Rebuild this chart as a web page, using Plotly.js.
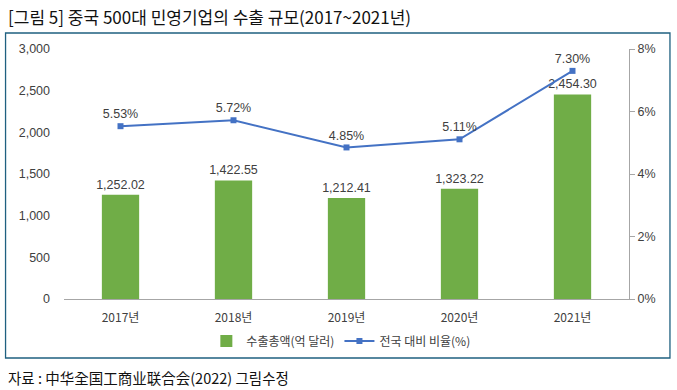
<!DOCTYPE html>
<html><head><meta charset="utf-8">
<script src="https://cdn.plot.ly/plotly-3.0.1.min.js"></script>
<style>html,body{margin:0;padding:0;background:#fff}#c{width:677px;height:390px}</style>
</head><body><div id="c"></div>
<script>
const years = ['2017년','2018년','2019년','2020년','2021년'];
const exportTotal = [1252.02, 1422.55, 1212.41, 1323.22, 2454.30];
const exportLabels = ['1,252.02','1,422.55','1,212.41','1,323.22','2,454.30'];
const ratio = [5.53, 5.72, 4.85, 5.11, 7.30];
const ratioLabels = ['5.53%','5.72%','4.85%','5.11%','7.30%'];

const font = 'Liberation Sans, Arial, Noto Sans CJK KR, sans-serif';
const kfont = 'Noto Sans CJK KR, Liberation Sans, sans-serif';

const traces = [
  {type:'bar', x:years, y:exportTotal, name:'수출총액(억 달러)', marker:{color:'#70ad47'},
   text:exportLabels, textposition:'outside', constraintext:'none', cliponaxis:false,
   textfont:{family:font, size:12.5, color:'#404040'}, hoverinfo:'none'},
  {type:'scatter', mode:'lines+markers+text', x:years, y:ratio, yaxis:'y2', name:'전국 대비 비율(%)',
   line:{color:'#4472c4', width:2}, marker:{symbol:'square', size:6, color:'#4472c4'},
   text:ratioLabels, textposition:'top center', cliponaxis:false,
   textfont:{family:font, size:12.5, color:'#404040'}, hoverinfo:'none'}
];

const layout = {
  width:677, height:390,
  margin:{l:63.5, r:48, t:49, b:91},
  paper_bgcolor:'#fff', plot_bgcolor:'#fff',
  showlegend:true,
  bargap:0.67,
  font:{family:font, size:12, color:'#404040'},
  xaxis:{showgrid:false, showline:true, linecolor:'#a6a6a6', linewidth:1, ticks:'', ticklabelstandoff:8, tickfont:{family:kfont, size:12, color:'#404040'}, fixedrange:true},
  yaxis:{range:[0,3000], dtick:500, tickformat:',', showgrid:false, showline:false, zeroline:false, ticks:'', ticklen:0, tickfont:{size:12.5, color:'#404040'}, ticklabelstandoff:13},
  yaxis2:{range:[0,8], dtick:2, ticksuffix:'%', overlaying:'y', side:'right', showgrid:false, showline:true, linecolor:'#a6a6a6', linewidth:1, ticks:'outside', ticklen:5, tickcolor:'#a6a6a6', zeroline:false, tickfont:{size:12.5, color:'#404040'}},
  legend:{orientation:'h', x:0.49, xanchor:'center', y:-0.168, yanchor:'middle', font:{family:kfont, size:12, color:'#404040'}, itemwidth:30, tracegroupgap:0},
  shapes:[{type:'rect', xref:'paper', yref:'paper', x0:(5-63.5)/565.5, x1:(670-63.5)/565.5, y0:(299-358)/250, y1:(299-33)/250, line:{color:'#1f6080', width:1.3}, layer:'below'}],
  annotations:[
    {xref:'paper', yref:'paper', x:(5-63.5)/565.5, y:(299-16)/250, xanchor:'left', yanchor:'middle', showarrow:false,
     text:'[그림 5] 중국 500대 민영기업의 수출 규모(2017~2021년)', font:{family:kfont, size:17, color:'#111'}},
    {xref:'paper', yref:'paper', x:(5-63.5)/565.5, y:(299-377)/250, xanchor:'left', yanchor:'middle', showarrow:false,
     text:'자료 : 中华全国工商业联合会(2022) 그림수정', font:{family:kfont, size:14.5, color:'#111'}}
  ]
};
Plotly.newPlot('c', traces, layout, {displayModeBar:false, staticPlot:true});
</script></body></html>
